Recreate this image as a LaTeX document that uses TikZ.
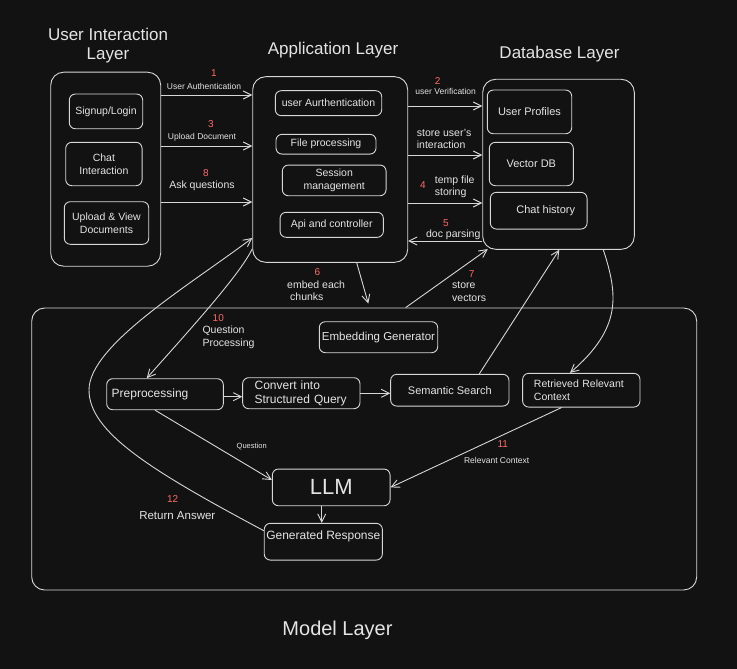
\documentclass[tikz,border=0pt]{standalone}
\usepackage{fontspec}
\setmainfont{Liberation Sans}
\usetikzlibrary{arrows.meta,calc}
\definecolor{bg}{RGB}{18,18,18}
\definecolor{ln}{RGB}{215,215,215}
\definecolor{tx}{RGB}{228,228,228}
\definecolor{rd}{RGB}{255,105,105}
\begin{document}
\begin{tikzpicture}[x=1pt,y=-1pt,
  box/.style={draw=ln, line width=0.9pt, rounded corners=6pt, text=tx, align=center, inner sep=2pt},
  cont/.style={draw=ln, line width=0.9pt, rounded corners=13pt},
  arr/.style={draw=ln, line width=0.9pt, -{Straight Barb[length=8pt,width=8pt]}},
  num/.style={text=rd, inner sep=0pt, font=\fontsize{10}{12}\selectfont},
  lbl/.style={text=tx, align=left, inner sep=0pt, font=\fontsize{10.5}{12.5}\selectfont},
  sml/.style={text=tx, inner sep=0pt, font=\fontsize{8.5}{10}\selectfont},
  ttl/.style={text=tx, align=center, inner sep=0pt, font=\fontsize{17}{19}\selectfont},
  nt/.style={font=\fontsize{10.5}{12.5}\selectfont},
  dt/.style={font=\fontsize{11}{13}\selectfont},
  mt/.style={font=\fontsize{12}{14}\selectfont},
]
\fill[bg] (0,0) rectangle (737,669);
\useasboundingbox (0,0) rectangle (737,669);

% titles
\node[ttl] (tui) at (108,46) {User Interaction\\Layer};
\node[ttl] (tapp) at (333,50.5) {Application Layer};
\node[ttl] (tdb) at (559.5,54) {Database Layer};
\node[ttl, font=\fontsize{20}{22}\selectfont] (tmod) at (337.5,630.5) {Model Layer};

% containers
\node[cont, minimum width=110pt, minimum height=194pt] (ui) at (105.7,169.2) {};
\node[cont, minimum width=155pt, minimum height=185.6pt] (app) at (330.2,169.5) {};
\node[cont, minimum width=151.6pt, minimum height=170pt] (db) at (558.5,164.3) {};
\node[cont, minimum width=665pt, minimum height=282pt] (model) at (364.2,449) {};

% user interaction nodes
\node[box, nt, minimum width=73.4pt, minimum height=34.7pt] (signup) at (106,111.4) {Signup/Login};
\node[box, nt, minimum width=76.3pt, minimum height=43.4pt] (chat) at (103.9,164) {Chat\\Interaction};
\node[box, nt, minimum width=84.4pt, minimum height=42.6pt] (upload) at (106.5,223) {Upload \& View\\Documents};

% application nodes
\node[box, nt, minimum width=106.4pt, minimum height=25pt] (uauth) at (328.5,103.2) {user Aurthentication};
\node[box, nt, minimum width=100pt, minimum height=19.7pt] (filep) at (326,144.2) {File processing};
\node[box, nt, minimum width=103.7pt, minimum height=30.7pt] (sess) at (334.2,180.4) {Session\\management};
\node[box, nt, minimum width=103.3pt, minimum height=25pt] (api) at (331.7,224.8) {Api and controller};

% database nodes
\node[box, dt, minimum width=84.4pt, minimum height=43.7pt] (uprof) at (529.5,111.9) {User Profiles};
\node[box, dt, minimum width=84pt, minimum height=43.4pt] (vdb) at (531.3,164) {Vector DB};
\node[box, dt, minimum width=96.7pt, minimum height=36.7pt] (chist) at (538.7,210.7) {\hspace*{14pt}Chat history};

% model nodes
\node[box, dt, font=\fontsize{11.5}{13.5}\selectfont, minimum width=118.4pt, minimum height=31pt] (embed) at (378.5,337.2) {Embedding Generator};
\node[box, mt, inner xsep=5pt, text width=106.6pt, align=left, minimum height=31pt] (prep) at (165,394.2) {Preprocessing};
\node[box, mt, inner xsep=12pt, text width=93.3pt, align=left, minimum height=31pt] (conv) at (301.3,393.2) {Convert into\\Structured Query};
\node[box, dt, minimum width=118.3pt, minimum height=31.7pt] (sem) at (449.8,390.2) {Semantic Search};
\node[box, nt, font=\fontsize{10.5}{12.3}\selectfont, inner xsep=11.3pt, text width=94.7pt, align=left, minimum height=33.7pt] (ret) at (581.3,390.2) {Retrieved Relevant\\Context};
\node[box, font=\fontsize{22}{24}\selectfont, minimum width=117.7pt, minimum height=36.7pt] (llm) at (331.2,487.4) {LLM};
\node[box, mt, minimum width=118pt, minimum height=36.7pt] (gen) at (323.3,541.7) {\raisebox{13pt}{Generated Response}};

% helper coordinates
\coordinate (h95) at (0,95);
\coordinate (h146) at (0,146);
\coordinate (h202) at (0,202);
\coordinate (h106) at (0,106);
\coordinate (h155) at (0,155);
\coordinate (h203) at (0,203);
\coordinate (h241) at (0,241);
\coordinate (h238) at (0,238);
\coordinate (h397) at (0,396.7);
\coordinate (h393) at (0,393.3);
\coordinate (h480) at (0,480);
\coordinate (h531) at (0,530.7);
\coordinate (v357) at (356.7,0);
\coordinate (v368) at (368.3,0);
\coordinate (v405) at (405.7,0);
\coordinate (v479) at (479.3,0);
\coordinate (v559) at (559.3,0);
\coordinate (v603) at (603.3,0);
\coordinate (v570) at (570,0);
\coordinate (v147) at (146.7,0);
\coordinate (v155) at (155,0);
\coordinate (v562) at (561.7,0);
\coordinate (v322) at (321.7,0);

% UI -> App
\draw[arr] (ui.east |- h95) -- (app.west |- h95);
\draw[arr] (ui.east |- h146) -- (app.west |- h146);
\draw[arr] (ui.east |- h202) -- (app.west |- h202);
\node[num] (n1) at (214,73) {1};
\node[sml] (l1) at (204,86) {User Authentication};
\node[num] (n3) at (211,124) {3};
\node[sml] (l3) at (202,137) {Upload Document};
\node[num] (n8) at (206,173) {8};
\node[lbl] (l8) at (202,186) {Ask questions};

% App <-> DB
\draw[arr] (app.east |- h106) -- (db.west |- h106);
\draw[arr] (app.east |- h155) -- (db.west |- h155);
\draw[arr] (app.east |- h203) -- (db.west |- h203);
\draw[arr] (db.west |- h241) -- (app.east |- h241);
\node[num] (n2) at (437.7,80.7) {2};
\node[sml] (l2) at (445.7,91.7) {user Verification};
\node[lbl, anchor=west] (ls) at (416.7,138.7) {store user's\\interaction};
\node[num] (n4) at (423,185) {4};
\node[lbl, anchor=west] (l4) at (434.7,186.7) {temp file\\storing};
\node[num] (n5) at (446,223) {5};
\node[lbl] (l5) at (453.3,234.5) {doc parsing};

% App -> Model, Model -> DB
\draw[arr] (app.south -| v357) -- ($(model.north -| v368)+(0,-4)$);
\node[num] (n6) at (317.3,272.3) {6};
\node[lbl, align=left, anchor=west] (l6) at (287,290.5) {embed each\\\hspace*{3pt}chunks};
\draw[arr] (model.north -| v405) -- ($(db.south west)+(5.6,-0.7)$);
\node[num] (n7) at (471.7,273.7) {7};
\node[lbl, align=left, anchor=west] (l7) at (452,291.8) {store\\vectors};

% DB <-> model nodes
\draw[arr] (sem.north -| v479) -- (db.south -| v559);
\draw[arr] (db.south -| v603) .. controls (618,295) and (622,328) .. (ret.north -| v570);

% 10: App -> Preprocessing
\draw[arr] ($(app.south west)+(0,-14)$) .. controls (240,275) and (185,335) .. (prep.north -| v147);
\node[num] (n10) at (218.3,318.3) {10};
\node[lbl, anchor=west] (l10) at (202.3,337.3) {Question\\Processing};

% model flow
\draw[arr] (prep.east |- h397) -- (conv.west |- h397);
\draw[arr] (conv.east |- h393) -- (sem.west |- h393);
\draw[arr] (prep.south -| v155) -- (llm.west |- h480);
\node[sml, font=\fontsize{7.5}{9}\selectfont] (lq) at (251.7,446.7) {Question};
\draw[arr] (ret.south -| v562) -- (llm.east);
\node[num] (n11) at (502.7,444.3) {11};
\node[sml] (l11) at (496.7,460.3) {Relevant Context};
\draw[arr] (llm.south -| v322) -- (gen.north -| v322);

% 12: Generated Response -> App
\draw[arr] (gen.west |- h531) .. controls (150,470) and (89,432) .. (89,390) .. controls (89,345) and (190,285) .. (app.west |- h238);
\node[num] (n12) at (172.7,498.7) {12};
\node[lbl, font=\fontsize{11.5}{13.5}\selectfont] (l12) at (177.3,515.7) {Return Answer};
\end{tikzpicture}
\end{document}
